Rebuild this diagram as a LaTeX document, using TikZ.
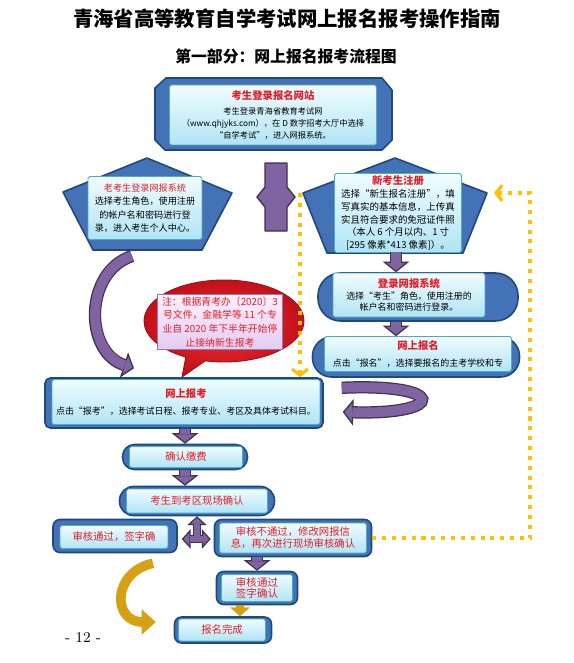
\documentclass[tikz,border=0pt]{standalone}
\usepackage{fontspec}
\newfontfamily\cjk{Noto Sans CJK SC}
\usepackage{tikz}
\usetikzlibrary{arrows.meta,positioning,calc,shapes.callouts}
\definecolor{panelBlue}{RGB}{68,114,182}
\definecolor{panelEdge}{RGB}{31,73,125}
\definecolor{cardTop}{RGB}{240,252,255}
\definecolor{cardBot}{RGB}{176,228,244}
\definecolor{cardEdge}{RGB}{75,172,198}
\definecolor{headRed}{RGB}{228,30,40}
\definecolor{arrPurple}{RGB}{128,100,162}
\definecolor{arrEdge}{RGB}{64,49,81}
\definecolor{arrGold}{RGB}{214,160,20}
\definecolor{dotYellow}{RGB}{255,192,0}
\definecolor{noteRedIn}{RGB}{232,50,50}
\definecolor{noteRedOut}{RGB}{196,16,26}
\definecolor{noteTop}{RGB}{252,240,252}
\definecolor{noteBot}{RGB}{226,204,242}
\definecolor{noteEdge}{RGB}{150,120,170}
\newcommand{\hd}[1]{{\bfseries\color{headRed}\fontsize{5.9}{7}\selectfont #1}}

\begin{document}
\begin{tikzpicture}[x=0.02cm,y=-0.02cm,
  pent/.style={fill=panelBlue,draw=panelEdge,line width=0.9pt,line join=round},
  panel/.style={fill=panelBlue,draw=panelEdge,line width=0.9pt,rounded corners=3pt,inner sep=0pt},
  card/.style={top color=cardTop,bottom color=cardBot,draw=cardEdge,line width=0.5pt,rounded corners=1pt,inner sep=0pt,align=center,font=\cjk\fontsize{5.1}{7.4}\selectfont},
  redcard/.style={card,text=headRed,font=\cjk\fontsize{5.9}{6.8}\selectfont},
  notecard/.style={top color=noteTop,bottom color=noteBot,draw=noteEdge,line width=0.5pt,inner sep=0pt,align=center,text=headRed,font=\cjk\fontsize{5.6}{7.9}\selectfont},
  blkline/.style={draw=arrEdge,line width=7pt,-{Triangle[length=6pt,width=15pt,line width=0.7pt,fill=arrPurple]}},
  blkcore/.style={draw=arrPurple,line width=5.6pt,shorten >=5.4pt},
  blk/.style={blkline,postaction={blkcore,-}},
  forkline/.style={draw=arrEdge,line width=5pt,-{Triangle[length=5pt,width=11pt,line width=0.7pt,fill=arrPurple]}},
  forkcore/.style={draw=arrPurple,line width=3.6pt,shorten >=4.4pt},
  goldarr/.style={draw=arrGold,line width=5pt,-{Triangle[length=5pt,width=11pt]}},
  dotline/.style={draw=dotYellow,line width=2.3pt,dash pattern=on 2.3pt off 3.3pt,-{Straight Barb[length=3.5pt,width=9pt,line width=1.8pt]}}]
  \useasboundingbox (0,0) rectangle (574,663);
  \fill[white] (0,0) rectangle (574,663);
  % headings
  \node[font=\cjk\bfseries\fontsize{11.6}{12}\selectfont] (title) at (287,19) {青海省高等教育自学考试网上报名报考操作指南};
  \node[font=\cjk\bfseries\fontsize{9}{10}\selectfont] (subtitle) at (286,56) {第一部分：网上报名报考流程图};
  % website
  \filldraw[pent] (155,88) -- (166,78) -- (382,78) -- (392,90) -- (392,140) -- (382,150) -- (165,150) -- (155,140) -- cycle;
  \node[card,minimum width=4.14cm,minimum height=1.2cm,font=\cjk\fontsize{4.7}{6.8}\selectfont] (site) at (273,115) {\hd{考生登录报名网站}\\[1.5pt]考生登录青海省教育考试网\\（www.qhjyks.com），在 D 数字招考大厅中选择\\“自学考试”，进入网报系统。};
  % old candidates
  \filldraw[pent] (147,158) -- (232,193) -- (202,250) -- (93,250) -- (63,192) -- cycle;
  \coordinate (oldBot) at (132,256);
  \node[card,minimum width=2.28cm,minimum height=1.26cm,font=\cjk\fontsize{5.2}{7.6}\selectfont] (old) at (145,208) {{\color{headRed}老考生登录网报系统}\\选择考生角色，使用注册\\的帐户名和密码进行登\\录，进入考生个人中心。};
  % new candidates
  \filldraw[pent] (395,158) -- (487,193) -- (463,253) -- (327,253) -- (303,193) -- cycle;
  \coordinate (newL) at (300,193);
  \coordinate (newR) at (487,193);
  \coordinate (newBot) at (396,252);
  \node[card,minimum width=2.54cm,minimum height=1.58cm,font=\cjk\fontsize{5.4}{7.3}\selectfont] (new) at (398,213) {\hd{新考生注册}\\选择“新生报名注册”，填\\写真实的基本信息，上传真\\实且符合要求的免冠证件照\\（本人 6 个月以内、1 寸\\{[}295 像素*413 像素{]}）。};
  % either way
  \filldraw[fill=arrPurple,draw=arrEdge,line width=0.8pt,line join=round] (265,163) -- (287,163) -- (287,187) -- (295,197) -- (287,207) -- (287,231) -- (265,231) -- (265,207) -- (257,197) -- (265,187) -- cycle;
  % login, apply
  \node[panel,minimum width=4cm,minimum height=0.96cm,rounded corners=0.45cm] (loginbg) at (418,297) {};
  \node[card,minimum width=3.04cm,minimum height=0.88cm,font=\cjk\fontsize{5.1}{6.6}\selectfont] (login) at (409,295) {\hd{登录网报系统}\\选择“考生”角色，使用注册的\\帐户名和密码进行登录。};
  \node[panel,minimum width=4.14cm,minimum height=0.8cm,rounded corners=0.38cm] (applybg) at (416,357) {};
  \node[card,minimum width=3.74cm,minimum height=0.7cm] (apply) at (418,354) {\hd{网上报名}\\[2pt]点击“报名”，选择要报名的主考学校和专};
  % note
  \node[ellipse callout,callout absolute pointer={(182,377)},minimum width=3.2cm,minimum height=1.64cm,inner color=noteRedIn,outer color=noteRedOut,draw=noteRedOut!80!black,line width=0.5pt] (notebg) at (224,321) {};
  \node[notecard,minimum width=2.5cm,minimum height=1.1cm] (note) at (220,322) {注：根据青考办〔2020〕3\\号文件，金融学等 11 个专\\业自 2020 年下半年开始停\\止接纳新生报考};
  % exam
  \node[panel,minimum width=5.56cm,minimum height=1cm] (exambg) at (184,403) {};
  \node[card,minimum width=5.36cm,minimum height=0.9cm] (exam) at (186,402) {\hd{网上报考}\\[2pt]点击“报考”，选择考试日程、报考专业、考区及具体考试科目。};
  % pay, onsite
  \node[panel,minimum width=2.5cm,minimum height=0.5cm,rounded corners=0.24cm] (paybg) at (185,457) {};
  \node[redcard,minimum width=2.26cm,minimum height=0.42cm] (pay) at (186,457) {确认缴费};
  \node[panel,minimum width=3.1cm,minimum height=0.58cm,rounded corners=0.28cm] (onsitebg) at (197,501) {};
  \node[redcard,minimum width=2.82cm,minimum height=0.48cm] (onsite) at (197,501) {考生到考区现场确认};
  % results
  \node[panel,minimum width=2.48cm,minimum height=0.66cm,rounded corners=4pt] (passbg) at (115,536) {};
  \node[redcard,minimum width=2.16cm,minimum height=0.46cm] (pass) at (114,537) {审核通过，签字确};
  \node[panel,minimum width=3.14cm,minimum height=0.74cm,rounded corners=4pt] (failbg) at (293,538) {};
  \node[redcard,minimum width=2.94cm,minimum height=0.6cm] (fail) at (293,538) {审核不通过，修改网报信\\息，再次进行现场审核确认};
  \node[panel,minimum width=1.62cm,minimum height=0.66cm,rounded corners=4pt] (signbg) at (257,588) {};
  \node[redcard,minimum width=1.42cm,minimum height=0.54cm,font=\cjk\fontsize{6}{6.3}\selectfont] (sign) at (257,588) {审核通过\\签字确认};
  \node[panel,minimum width=1.94cm,minimum height=0.52cm,rounded corners=4pt] (donebg) at (223,630) {};
  \node[redcard,minimum width=1.74cm,minimum height=0.44cm] (done) at (222,630) {报名完成};
  \node[font=\fontsize{8.5}{9}\selectfont] (pageno) at (83,638) {- 12 -};
  % block arrows
  \draw[blk] (newBot) -- (newBot |- loginbg.north);
  \draw[blk] (newBot |- loginbg.south) -- (newBot |- applybg.north);
  \draw[blk] (oldBot) .. controls (84,272) and (84,352) .. ($(exambg.north)+(-50,-9)$);
  \draw[blk] ($(applybg.south west)+(30,10)$) .. controls (447,383) and (447,415) .. ($(exambg.east)+(19,9)$);
  \draw[blk] (paybg.north |- exambg.south) -- (paybg.north);
  \draw[blk] (paybg.south) -- (paybg.south |- onsitebg.north);
  \draw[blk] (signbg.north |- failbg.south) -- (signbg.north);
  % three ways out of the check
  \coordinate (fork) at (197,539);
  \coordinate (up) at (fork |- onsitebg.south);
  \coordinate (lt) at ($(fork -| passbg.east)+(4,0)$);
  \coordinate (rt) at ($(fork -| failbg.west)+(-3,0)$);
  \foreach \t in {up,lt,rt} \draw[forkline] (fork) -- (\t);
  \foreach \t in {up,lt,rt} \draw[forkcore] (fork) -- (\t);
  % gold arrows
  \coordinate (gA) at ($(signbg.south)+(-17,0)$);
  \draw[goldarr] (gA) -- (gA |- donebg.north);
  \draw[goldarr,line width=5.5pt,-{Triangle[length=8pt,width=14pt]}] ($(passbg.south)+(38,10)$) .. controls (112,572) and (112,622) .. ($(donebg.west)+(-18,-8)$);
  % dotted returns
  \draw[dotline] (newL) -- (newL |- exambg.north);
  \draw[dotline,shorten >=4pt] (failbg.east) -- ++(158,0) |- (newR);
\end{tikzpicture}
\end{document}
